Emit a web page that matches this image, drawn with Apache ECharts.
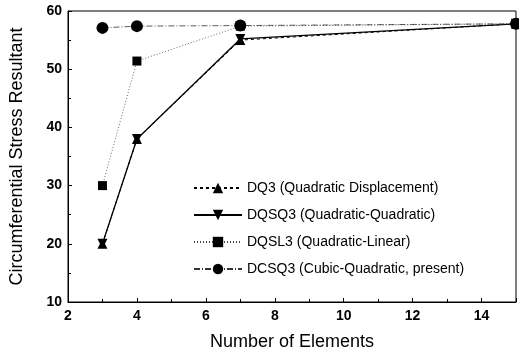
<!DOCTYPE html>
<html><head><meta charset="utf-8">
<script src="https://cdn.jsdelivr.net/npm/echarts@6/dist/echarts.min.js"></script>
<style>html,body{margin:0;padding:0;background:#fff}#c{width:519px;height:356px}</style>
</head><body><div id="c"></div>
<script>
var elements = [3, 4, 7, 15];
var dq3   = [20, 38, 55.0, 57.8];
var dqsq3 = [20, 38, 55.2, 57.8];
var dqsl3 = [30, 51.4, 57.4, 57.8];
var dcsq3 = [57.1, 57.4, 57.5, 57.8];
var names = ['DQ3 (Quadratic Displacement)', 'DQSQ3 (Quadratic-Quadratic)', 'DQSL3 (Quadratic-Linear)', 'DCSQ3 (Cubic-Quadratic, present)'];
function pts(v){ return elements.map(function(x,i){ return [x, v[i]]; }); }
var chart = echarts.init(document.getElementById('c'));
var font = 'Liberation Sans, Arial, sans-serif';
chart.setOption({
  animation: false,
  grid: {left: 65, right: 3, top: 11, bottom: 51, show: true, borderColor: '#000', borderWidth: 1, backgroundColor: 'transparent'},
  legend: {
    orient: 'vertical', left: 193, top: 181, padding: 0, itemWidth: 48, itemHeight: 13, itemGap: 13,
    textStyle: {fontFamily: font, fontSize: 14, color: '#000'},
    data: names
  },
  xAxis: {
    type: 'value', min: 2, max: 15, interval: 2,
    name: 'Number of Elements', nameLocation: 'middle', nameGap: 31,
    nameTextStyle: {fontFamily: font, fontSize: 18, color: '#000'},
    axisLine: {lineStyle: {color: '#000'}},
    axisTick: {inside: true, length: 4, lineStyle: {color: '#000'}},
    minorTick: {show: true, splitNumber: 2, length: 3, lineStyle: {color: '#000'}},
    axisLabel: {fontFamily: font, fontSize: 14, fontWeight: 'bold', color: '#000', margin: 7,
      formatter: function(v){ return v % 2 === 0 ? v : ''; }},
    splitLine: {show: false}
  },
  yAxis: {
    type: 'value', min: 10, max: 60, interval: 10,
    name: 'Circumferential Stress Resultant', nameLocation: 'middle', nameGap: 42,
    nameTextStyle: {fontFamily: font, fontSize: 18, color: '#000'},
    axisLine: {lineStyle: {color: '#000'}},
    axisTick: {inside: true, length: 4, lineStyle: {color: '#000'}},
    minorTick: {show: true, splitNumber: 2, length: 3, lineStyle: {color: '#000'}},
    axisLabel: {fontFamily: font, fontSize: 14, fontWeight: 'bold', color: '#000', margin: 6},
    splitLine: {show: false}
  },
  series: [
    {name: names[0], type: 'line', data: pts(dq3), symbol: 'triangle', symbolSize: 10, clip: false,
     itemStyle: {color: '#000'}, lineStyle: {color: '#000', width: 1, type: [3, 3]}},
    {name: names[1], type: 'line', data: pts(dqsq3), symbol: 'triangle', symbolRotate: 180, symbolSize: 10, clip: false,
     itemStyle: {color: '#000'}, lineStyle: {color: '#000', width: 1.3}},
    {name: names[2], type: 'line', data: pts(dqsl3), symbol: 'rect', symbolSize: 9, clip: false,
     itemStyle: {color: '#000'}, lineStyle: {color: '#444', width: 0.8, type: [1, 2]}},
    {name: names[3], type: 'line', data: pts(dcsq3), symbol: 'circle', symbolSize: 12, clip: false,
     itemStyle: {color: '#000'}, lineStyle: {color: '#333', width: 0.8, type: [6, 2, 1, 2]}}
  ]
});
</script></body></html>
